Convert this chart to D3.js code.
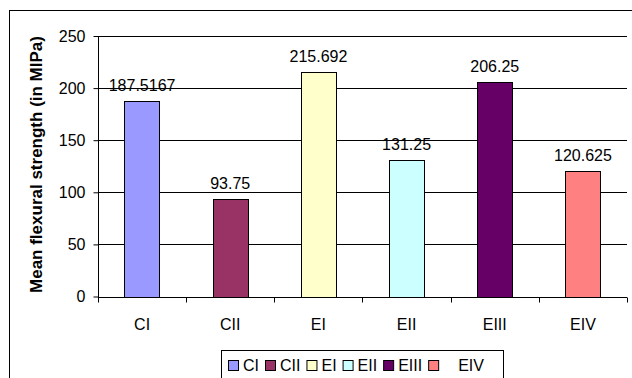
<!DOCTYPE html>
<html>
<head>
<meta charset="utf-8">
<script src="https://cdn.jsdelivr.net/npm/d3@7"></script>
<style>
  body { margin: 0; background: #fff; }
  svg text { font-family: "Liberation Sans", Arial, sans-serif; fill: #000; }
</style>
</head>
<body>
<div id="chart"></div>
<script>
const categories = ['CI', 'CII', 'EI', 'EII', 'EIII', 'EIV'];
const values = [187.5167, 93.75, 215.692, 131.25, 206.25, 120.625];
const valueLabels = ['187.5167', '93.75', '215.692', '131.25', '206.25', '120.625'];
const colors = ['#9999FF', '#993366', '#FFFFCC', '#CCFFFF', '#660066', '#FF8080'];
const yTicks = [0, 50, 100, 150, 200, 250];
const yTitle = 'Mean flexural strength (in MIPa)';

const width = 632, height = 378;
const plotLeft = 98, plotRight = 627, plotTop = 36, plotBottom = 296.5;

const svg = d3.select('#chart').append('svg')
  .attr('width', width)
  .attr('height', height);

// outer chart border
svg.append('rect')
  .attr('x', 9.5).attr('y', 10.5)
  .attr('width', 640).attr('height', 400)
  .attr('fill', 'none')
  .attr('stroke', '#000')
  .attr('stroke-width', 1);

let x = d3.scaleBand()
  .domain(categories)
  .range([plotLeft, plotRight])
  .paddingInner(0.6)
  .paddingOuter(0.3);

let y = d3.scaleLinear()
  .domain([0, 250])
  .range([plotBottom, plotTop]);

// gridlines
svg.append('g')
  .selectAll('line')
  .data(yTicks.filter(d => d > 0))
  .join('line')
  .attr('x1', plotLeft).attr('x2', plotRight)
  .attr('y1', d => Math.round(y(d)) + 0.5)
  .attr('y2', d => Math.round(y(d)) + 0.5)
  .attr('stroke', '#000')
  .attr('stroke-width', 1);

// bars
svg.append('g')
  .selectAll('rect')
  .data(values)
  .join('rect')
  .attr('x', (d, i) => Math.round(x(categories[i])) + 0.5)
  .attr('y', d => Math.round(y(d)) + 0.5)
  .attr('width', Math.round(x.bandwidth()))
  .attr('height', d => Math.round(y(0)) - Math.round(y(d)))
  .attr('fill', (d, i) => colors[i])
  .attr('stroke', '#000')
  .attr('stroke-width', 1);

// value labels
svg.append('g')
  .selectAll('text')
  .data(values)
  .join('text')
  .attr('x', (d, i) => x(categories[i]) + x.bandwidth() / 2)
  .attr('y', d => y(d) - 10)
  .attr('text-anchor', 'middle')
  .style('font-size', '16px')
  .text((d, i) => valueLabels[i]);

// y axis
const yAxis = svg.append('g')
  .attr('transform', 'translate(' + (plotLeft + 0.5) + ',0)')
  .call(d3.axisLeft(y)
    .tickValues(yTicks)
    .tickSize(5)
    .tickPadding(8)
    .tickFormat(d => d));
yAxis.attr('font-family', null).attr('font-size', null);
yAxis.selectAll('.tick text').style('font-size', '16px').attr('fill', '#000');
yAxis.select('.domain').attr('d', 'M0,' + plotTop + 'V' + (plotBottom + 0.5));

// x axis with ticks at the category boundaries
const step = x.step();
const bounds = categories.map(c => x(c) - step * 0.3).concat([plotRight]);
const xAxis = svg.append('g')
  .attr('transform', 'translate(0,' + (Math.round(plotBottom) + 0.5) + ')');
xAxis.append('line')
  .attr('x1', plotLeft).attr('x2', plotRight)
  .attr('stroke', '#000');
xAxis.selectAll('.btick')
  .data(bounds)
  .join('line')
  .attr('class', 'btick')
  .attr('x1', d => Math.round(d) + 0.5).attr('x2', d => Math.round(d) + 0.5)
  .attr('y1', 0).attr('y2', 5)
  .attr('stroke', '#000');
xAxis.selectAll('.xlabel')
  .data(categories)
  .join('text')
  .attr('class', 'xlabel')
  .attr('x', d => x(d) + x.bandwidth() / 2)
  .attr('y', 32)
  .attr('text-anchor', 'middle')
  .style('font-size', '16px')
  .text(d => d);

// y title
svg.append('text')
  .attr('transform', 'translate(42,' + 164.5 + ') rotate(-90)')
  .attr('text-anchor', 'middle')
  .style('font-size', '17px')
  .style('font-weight', 'bold')
  .text(yTitle);

// legend
const legend = svg.append('g');
legend.append('rect')
  .attr('x', 221.5).attr('y', 350.5)
  .attr('width', 282).attr('height', 40)
  .attr('fill', '#fff')
  .attr('stroke', '#000');

let lx = 228;
categories.forEach((c, i) => {
  legend.append('rect')
    .attr('x', lx + 0.5).attr('y', 360.5)
    .attr('width', 10).attr('height', 10)
    .attr('fill', colors[i])
    .attr('stroke', '#000');
  const t = legend.append('text')
    .attr('x', lx + 15 + (i === categories.length - 1 ? 15 : 0))
    .attr('y', 371)
    .style('font-size', '16px')
    .text(c);
  lx += 15 + t.node().getComputedTextLength() + 6;
});
</script>
</body>
</html>
